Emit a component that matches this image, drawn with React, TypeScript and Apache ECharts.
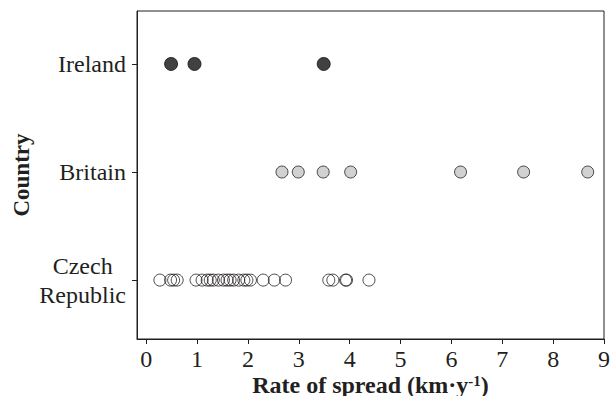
import React, { useEffect, useRef } from "react";
import * as echarts from "echarts";

const countries = ["Czech\nRepublic", "Britain", "Ireland"];
const xTicks = [0, 1, 2, 3, 4, 5, 6, 7, 8, 9];
const irelandRates = [0.49, 0.95, 3.49];
const britainRates = [2.67, 2.99, 3.48, 4.02, 6.18, 7.42, 8.68];
const czechRates = [
  0.27, 0.48, 0.54, 0.61, 0.98, 1.1, 1.2, 1.26, 1.32, 1.42, 1.52, 1.59, 1.65,
  1.72, 1.82, 1.92, 1.98, 2.05, 2.3, 2.52, 2.74, 3.59, 3.67, 3.92, 3.94, 4.38,
];

const INK = "#231f20";
const FONT = "'Liberation Serif', 'Times New Roman', serif";

export default function App() {
  const ref = useRef<HTMLDivElement>(null);
  useEffect(() => {
    if (!ref.current) return;
    const chart = echarts.init(ref.current, null, { renderer: "svg" });
    const toPts = (arr: number[], y: number) => arr.map((v) => [v, y]);
    chart.setOption({
      animation: false,
      backgroundColor: "#ffffff",
      grid: {
        left: 137,
        top: 11,
        right: 12,
        bottom: 57,
        show: true,
        borderColor: INK,
        borderWidth: 1,
        backgroundColor: "transparent",
        outerBoundsMode: "none",
        containLabel: false,
      },
      xAxis: {
        type: "value",
        min: -0.18,
        max: 9,
        name: "{a|Rate of spread (km·y}{s|-1}{a|)}",
        nameLocation: "middle",
        nameGap: 34,
        nameMoveOverlap: false,
        nameTextStyle: {
          rich: {
            a: { fontFamily: FONT, fontSize: 24, fontWeight: "bold", color: INK, lineHeight: 23 },
            s: { fontFamily: FONT, fontSize: 15, fontWeight: "bold", color: INK, verticalAlign: "top", lineHeight: 12 },
          },
        },
        axisLine: { show: true, onZero: false, lineStyle: { color: INK, width: 1 } },
        axisTick: { show: true, length: 5, customValues: xTicks, lineStyle: { color: INK } },
        axisLabel: {
          customValues: xTicks,
          margin: 8,
          fontFamily: FONT,
          fontSize: 24,
          color: INK,
        },
        splitLine: { show: false },
      },
      yAxis: {
        type: "value",
        min: 0.455,
        max: 3.49,
        name: "Country",
        nameLocation: "middle",
        nameRotate: 90,
        nameGap: 104,
        nameMoveOverlap: false,
        nameTextStyle: { fontFamily: FONT, fontSize: 23, fontWeight: "bold", color: INK },
        axisLine: { show: true, onZero: false, lineStyle: { color: INK, width: 1 } },
        axisTick: { show: true, length: 5, customValues: [1, 2, 3], lineStyle: { color: INK } },
        axisLabel: {
          customValues: [1, 2, 3],
          margin: 11,
          fontFamily: FONT,
          fontSize: 24,
          color: INK,
          formatter: (v: number) => {
            const name = countries[Math.round(v) - 1] || "";
            if (name.indexOf("\n") >= 0) {
              return name
                .split("\n")
                .map((s) => "{c|" + s + "}")
                .join("\n");
            }
            return name;
          },
          rich: {
            c: { fontFamily: FONT, fontSize: 24, color: INK, align: "center", lineHeight: 29 },
          },
        },
        splitLine: { show: false },
      },
      series: [
        {
          type: "scatter",
          data: toPts(czechRates, 1),
          symbol: "circle",
          symbolSize: 12,
          itemStyle: { color: "rgba(255,255,255,0)", borderColor: INK, borderWidth: 1 },
        },
        {
          type: "scatter",
          data: toPts(britainRates, 2),
          symbol: "circle",
          symbolSize: 12,
          itemStyle: { color: "#c6c6c6", borderColor: INK, borderWidth: 1 },
        },
        {
          type: "scatter",
          data: toPts(irelandRates, 3),
          symbol: "circle",
          symbolSize: 13,
          itemStyle: { color: "#111111", borderColor: "#111111", borderWidth: 1 },
        },
      ],
    });
    return () => chart.dispose();
  }, []);
  return <div ref={ref} style={{ width: 616, height: 396, position: "absolute", left: 0, top: 0 }} />;
}
